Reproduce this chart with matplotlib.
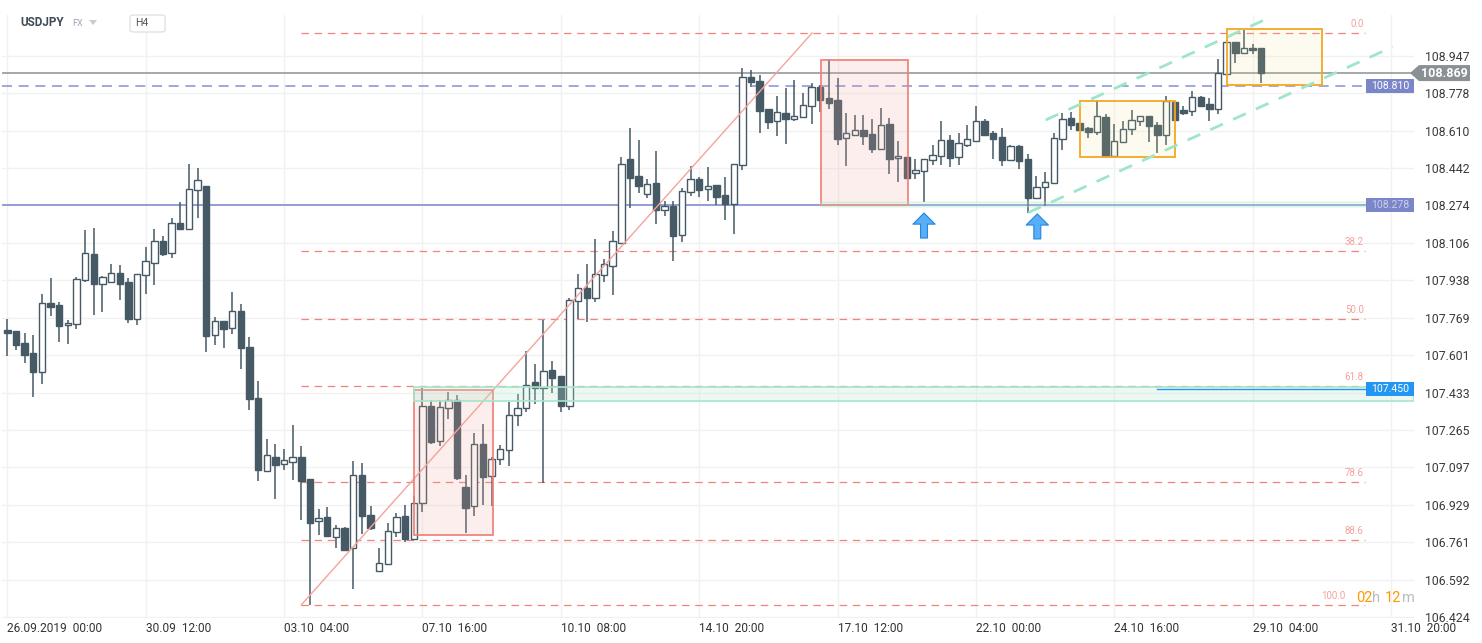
import numpy as np
import matplotlib.pyplot as plt
from matplotlib.patches import Rectangle, Polygon, FancyBboxPatch

plt.rcParams['font.family'] = ['Roboto', 'DejaVu Sans']

W, H = 1482, 643

# USDJPY H4 candles
opens = [107.715, 107.710, 107.656, 107.611, 107.526, 107.836, 107.827, 107.737, 107.742, 107.939,
         108.056, 107.921, 107.930, 107.971, 107.930, 107.764, 107.962, 108.016, 108.114, 108.061,
         108.195, 108.168, 108.343, 108.361, 107.692, 107.755, 107.724, 107.800, 107.638, 107.409,
         107.081, 107.144, 107.113, 107.122, 107.144, 107.045, 106.857, 106.875, 106.785, 106.825,
         106.735, 107.063, 106.884, 106.632, 106.664, 106.807, 106.879, 106.776, 106.938, 107.373,
         107.216, 107.364, 107.400, 107.009, 106.924, 107.203, 107.059, 107.135, 107.176, 107.333,
         107.364, 107.481, 107.454, 107.535, 107.508, 107.373, 107.845, 107.903, 107.858, 107.962,
         108.002, 108.105, 108.483, 108.406, 108.326, 108.375, 108.254, 108.272, 108.141, 108.334,
         108.393, 108.348, 108.366, 108.321, 108.281, 108.456, 108.851, 108.833, 108.707, 108.653,
         108.689, 108.662, 108.671, 108.721, 108.806, 108.757, 108.748, 108.577, 108.591, 108.613,
         108.595, 108.528, 108.640, 108.487, 108.492, 108.420, 108.429, 108.478, 108.496, 108.568,
         108.492, 108.546, 108.564, 108.653, 108.600, 108.582, 108.478, 108.541, 108.483, 108.308,
         108.357, 108.375, 108.573, 108.667, 108.644, 108.622, 108.604, 108.671, 108.496, 108.559,
         108.617, 108.653, 108.676, 108.635, 108.591, 108.739, 108.703, 108.698, 108.761, 108.730,
         108.707, 108.865, 109.008, 108.959, 108.981, 108.981]
highs = [107.764, 107.710, 107.701, 107.692, 107.876, 107.948, 107.840, 107.760, 107.953, 108.164,
         108.173, 107.957, 108.011, 108.007, 107.948, 107.966, 108.088, 108.168, 108.137, 108.218,
         108.290, 108.460, 108.442, 108.361, 107.773, 107.755, 107.885, 107.831, 107.683, 107.486,
         107.225, 107.203, 107.180, 107.288, 107.194, 107.045, 106.911, 106.920, 106.839, 106.830,
         107.126, 107.117, 106.924, 106.735, 106.848, 106.893, 106.929, 106.969, 107.454, 107.400,
         107.400, 107.436, 107.423, 107.063, 107.252, 107.292, 107.144, 107.198, 107.391, 107.427,
         107.620, 107.562, 107.760, 107.575, 107.508, 107.858, 107.966, 108.011, 108.123, 108.034,
         108.159, 108.492, 108.622, 108.568, 108.393, 108.519, 108.294, 108.294, 108.352, 108.451,
         108.402, 108.447, 108.366, 108.402, 108.460, 108.892, 108.883, 108.860, 108.707, 108.766,
         108.802, 108.838, 108.779, 108.824, 108.815, 108.932, 108.847, 108.689, 108.680, 108.680,
         108.662, 108.712, 108.667, 108.564, 108.492, 108.483, 108.483, 108.546, 108.653, 108.591,
         108.600, 108.635, 108.721, 108.662, 108.608, 108.622, 108.546, 108.546, 108.505, 108.406,
         108.424, 108.600, 108.689, 108.694, 108.644, 108.626, 108.748, 108.685, 108.640, 108.653,
         108.703, 108.676, 108.676, 108.649, 108.766, 108.739, 108.721, 108.788, 108.766, 108.757,
         108.932, 109.008, 109.008, 109.062, 108.999, 108.981]
lows = [107.598, 107.625, 107.566, 107.414, 107.472, 107.778, 107.661, 107.652, 107.719, 107.930,
        107.782, 107.796, 107.930, 107.849, 107.746, 107.737, 107.876, 107.917, 108.047, 108.038,
        108.168, 108.164, 108.218, 107.616, 107.647, 107.634, 107.697, 107.540, 107.355, 107.036,
        107.077, 106.956, 107.086, 107.041, 106.861, 106.479, 106.794, 106.789, 106.735, 106.722,
        106.551, 106.798, 106.816, 106.632, 106.664, 106.785, 106.762, 106.776, 106.897, 107.203,
        107.194, 107.315, 107.041, 106.803, 106.879, 106.929, 106.924, 107.108, 107.104, 107.283,
        107.346, 107.382, 107.027, 107.432, 107.346, 107.355, 107.764, 107.751, 107.840, 107.930,
        107.872, 108.105, 108.263, 108.330, 108.308, 108.191, 108.227, 108.025, 108.110, 108.317,
        108.312, 108.294, 108.276, 108.209, 108.146, 108.433, 108.806, 108.600, 108.617, 108.586,
        108.550, 108.653, 108.671, 108.640, 108.694, 108.707, 108.546, 108.451, 108.591, 108.546,
        108.510, 108.528, 108.415, 108.379, 108.397, 108.393, 108.290, 108.456, 108.456, 108.447,
        108.456, 108.537, 108.564, 108.591, 108.483, 108.451, 108.474, 108.438, 108.240, 108.308,
        108.272, 108.375, 108.523, 108.613, 108.613, 108.577, 108.591, 108.496, 108.492, 108.559,
        108.591, 108.631, 108.559, 108.510, 108.546, 108.658, 108.680, 108.676, 108.721, 108.653,
        108.685, 108.865, 108.914, 108.954, 108.954, 108.824]
closes = [107.701, 107.647, 107.602, 107.526, 107.836, 107.818, 107.733, 107.746, 107.944, 108.061,
          107.921, 107.953, 107.971, 107.921, 107.764, 107.966, 108.025, 108.114, 108.056, 108.195,
          108.168, 108.348, 108.388, 107.688, 107.755, 107.719, 107.800, 107.634, 107.405, 107.086,
          107.153, 107.108, 107.131, 107.144, 107.036, 106.848, 106.870, 106.789, 106.825, 106.726,
          107.063, 106.879, 106.825, 106.668, 106.812, 106.875, 106.776, 106.938, 107.373, 107.212,
          107.369, 107.400, 107.050, 106.915, 107.203, 107.054, 107.135, 107.180, 107.333, 107.364,
          107.468, 107.454, 107.531, 107.499, 107.373, 107.849, 107.903, 107.858, 107.966, 108.011,
          108.114, 108.460, 108.397, 108.361, 108.370, 108.254, 108.272, 108.137, 108.339, 108.393,
          108.343, 108.361, 108.312, 108.281, 108.460, 108.851, 108.829, 108.698, 108.649, 108.694,
          108.662, 108.676, 108.725, 108.806, 108.748, 108.734, 108.573, 108.600, 108.613, 108.586,
          108.528, 108.635, 108.483, 108.496, 108.397, 108.433, 108.483, 108.501, 108.568, 108.487,
          108.555, 108.573, 108.653, 108.591, 108.573, 108.478, 108.541, 108.474, 108.308, 108.357,
          108.379, 108.577, 108.662, 108.635, 108.613, 108.604, 108.676, 108.496, 108.564, 108.617,
          108.658, 108.676, 108.631, 108.591, 108.743, 108.658, 108.689, 108.761, 108.721, 108.707,
          108.869, 109.008, 108.959, 108.981, 108.972, 108.869]

time_ticks = list(range(0, 161, 16))
time_labels = ['26.09.2019  00:00', '30.09  12:00', '03.10  04:00', '07.10  16:00',
               '10.10  08:00', '14.10  20:00', '17.10  12:00', '22.10  00:00',
               '24.10  16:00', '29.10  04:00', '31.10  20:00']
price_ticks = [108.947, 108.778, 108.610, 108.442, 108.274, 108.106, 107.938, 107.769,
               107.601, 107.433, 107.265, 107.097, 106.929, 106.761, 106.592, 106.424]

# fibonacci retracement
fib_low, fib_high = 106.479, 109.049
fib_low_bar, fib_high_bar = 34.0, 93.05
fib_end_bar = 157.0
fib_levels = [0.0, 38.2, 50.0, 61.8, 78.6, 88.6, 100.0]

# horizontal levels
current_price = 108.869
level_dashed = 108.810
level_support = 108.276
level_blue = 107.450
level_blue_start = 133.0

# drawings (bar start, bar end, price low, price high)
pink_boxes = [(47.07, 56.13, 106.794, 107.445), (94.13, 104.1, 108.276, 108.927)]
orange_boxes = [(124.08, 135.06, 108.490, 108.742), (141.07, 152.06, 108.814, 109.065)]
green_band = (47.07, 107.394, 107.457)
green_thin = (94.13, 108.267, 108.290)
channel_low = [(118.06, 108.242), (160.2, 108.987)]
channel_high = [(120.07, 108.658), (145.81, 109.116)]
arrow_bars = [106.0, 119.1]
arrow_tips = [108.240, 108.236]

dark = '#455a64'

fig = plt.figure(figsize=(W / 100, H / 100), dpi=100)
fig.patch.set_facecolor('white')
ax = fig.add_axes([2 / W, 25 / H, 1412 / W, 603 / H])
ax.set_xlim(-0.613, 162.66)
ax.set_ylim(106.420, 109.130)
for s in ax.spines.values():
    s.set_visible(False)

ax.set_yticks(price_ticks)
ax.set_yticklabels(['%.3f' % p for p in price_ticks])
ax.yaxis.tick_right()
ax.tick_params(axis='y', length=0, pad=8, labelsize=8.8, labelcolor='#3a3a3a')
ax.set_xticks(time_ticks)
ax.set_xticklabels(time_labels, ha='left')
ax.tick_params(axis='x', length=0, pad=3, labelsize=8.6, labelcolor='#333333')
ax.grid(True, color='#f1f1f1', lw=1, zorder=0)
ax.set_axisbelow(True)

# candles
idx = np.arange(len(opens))
o = np.array(opens)
c = np.array(closes)
bottoms = np.minimum(o, c)
heights = np.maximum(np.abs(c - o), 0.004)
faces = [dark if cc < oo else 'white' for oo, cc in zip(o, c)]
ax.vlines(idx, lows, highs, color=dark, lw=1.1, zorder=3)
ax.bar(idx, heights, bottom=bottoms, width=0.74, color=faces, edgecolor=dark,
       linewidth=1.0, zorder=4)

# fibonacci
rng = fib_high - fib_low
for lev in fib_levels:
    yv = fib_high - lev / 100 * rng
    ax.plot([fib_low_bar, fib_end_bar], [yv, yv], color='#f2837b', lw=0.9,
            dashes=(6, 4.5), zorder=2)
    # last label sits under the countdown, nudge it left
    dx = -14 if lev == 100.0 else -1
    ax.annotate('%.1f' % lev, xy=(fib_end_bar, yv), xytext=(dx, 3),
                textcoords='offset points', ha='right', va='bottom',
                fontsize=7, color='#f4a29c', zorder=2)
ax.plot([fib_low_bar, fib_high_bar], [fib_low, fib_high], color='#f5a39d', lw=1.0, zorder=5)

# horizontal lines
ax.axhline(current_price, color='#8c9196', lw=1.1, zorder=2)
ax.axhline(level_dashed, color='#8f98d8', lw=1.2, dashes=(6, 4), zorder=2)
ax.axhline(level_support, color='#8d96d6', lw=1.3, zorder=2)
ax.plot([level_blue_start, 162.66], [level_blue, level_blue], color='#2196f3', lw=1.0, zorder=6)

# boxes
for x0, x1, y0, y1 in pink_boxes:
    ax.add_patch(Rectangle((x0, y0), x1 - x0, y1 - y0, facecolor='#f2a49a', alpha=0.18,
                           zorder=5, lw=0))
    ax.add_patch(Rectangle((x0, y0), x1 - x0, y1 - y0, fill=False, edgecolor='#f07c74',
                           lw=1.2, zorder=5))
for x0, x1, y0, y1 in orange_boxes:
    ax.add_patch(Rectangle((x0, y0), x1 - x0, y1 - y0, facecolor='#f5e08a', alpha=0.12,
                           zorder=5, lw=0))
    ax.add_patch(Rectangle((x0, y0), x1 - x0, y1 - y0, fill=False, edgecolor='#f5a623',
                           lw=1.3, zorder=5))
gx0, gy0, gy1 = green_band
ax.add_patch(Rectangle((gx0, gy0), 162.66 - gx0, gy1 - gy0, facecolor='#b5ead3', alpha=0.25,
                       edgecolor='none', zorder=5))
ax.add_patch(Rectangle((gx0, gy0), 162.66 - gx0, gy1 - gy0, fill=False, edgecolor='#a6e5ca',
                       lw=1.2, zorder=5))
tx0, ty0, ty1 = green_thin
ax.add_patch(Rectangle((tx0, ty0), 162.66 - tx0, ty1 - ty0, facecolor='#b5ead3', alpha=0.25,
                       edgecolor='#a6e5ca', lw=1.2, zorder=5))

# channel
for line in (channel_low, channel_high):
    ax.plot([p[0] for p in line], [p[1] for p in line], color='#9fe6c9', lw=2.0,
            dashes=(5, 4), zorder=6)

# arrows
for xb, yt in zip(arrow_bars, arrow_tips):
    ax.annotate('', xy=(xb, yt), xytext=(0, -18), textcoords='offset points',
                arrowprops=dict(arrowstyle='simple,head_length=0.8,head_width=1.6,tail_width=0.5',
                                facecolor='#5aaef5', edgecolor='#1e88e5', lw=0.8,
                                shrinkA=0, shrinkB=0), zorder=7)


# price tags on the right
def ypix(price):
    return ax.transData.transform((0, price))[1]


def tag(price, text, color, txtcolor='white'):
    yd = ypix(price)
    box = Rectangle((1366 / W, (yd - 7) / H), 48 / W, 14 / H, transform=fig.transFigure,
                    facecolor=color, edgecolor='none', zorder=8)
    fig.patches.append(box)
    fig.text(1390 / W, yd / H, text, color=txtcolor, fontsize=7.6, ha='center', va='center',
             zorder=9)


tag(level_dashed, '108.810', '#7b86c9')
tag(level_support, '108.278', '#7b86c9', txtcolor='#c9cdee')
tag(level_blue, '107.450', '#2196f3')

yd = ypix(current_price)
pts = [(1410, yd), (1419, yd + 8), (1470, yd + 8), (1470, yd - 8), (1419, yd - 8)]
fig.patches.append(Polygon([(px / W, py / H) for px, py in pts], closed=True,
                           transform=fig.transFigure, facecolor='#8a9094', edgecolor='none'))
fig.text(1444 / W, yd / H, '108.869', color='white', fontsize=9, fontweight='bold',
         ha='center', va='center')

# header
fig.text(20 / W, 1 - 23 / H, 'USDJPY', fontsize=8.5, fontweight='bold', color='#3e4a56',
         va='center')
fig.text(72 / W, 1 - 24 / H, 'FX', fontsize=6.5, color='#9aa8b5', va='center')
for tx in (93, 157):
    fig.patches.append(Polygon([((tx - 4) / W, 1 - 20 / H), ((tx + 4) / W, 1 - 20 / H),
                                (tx / W, 1 - 25 / H)], closed=True, transform=fig.transFigure,
                               facecolor='#c8ccd0', edgecolor='none'))
fig.patches.append(FancyBboxPatch((130 / W, 1 - 32 / H), 35 / W, 17 / H,
                                  boxstyle='round,pad=0,rounding_size=0.003',
                                  transform=fig.transFigure, facecolor='white',
                                  edgecolor='#dfe3e6', lw=1))
fig.text(135 / W, 1 - 23.5 / H, 'H4', fontsize=7.5, color='#555555', va='center')

# countdown
fig.text(1356 / W, 1 - 598 / H, '02', fontsize=10.5, color='#ff9800', va='center')
fig.text(1372 / W, 1 - 598 / H, 'h', fontsize=10.5, color='#b8bcc0', va='center')
fig.text(1385 / W, 1 - 598 / H, '12', fontsize=10.5, color='#ff9800', va='center')
fig.text(1402 / W, 1 - 598 / H, 'm', fontsize=10.5, color='#b8bcc0', va='center')

fig.savefig('out.png', dpi=100)
